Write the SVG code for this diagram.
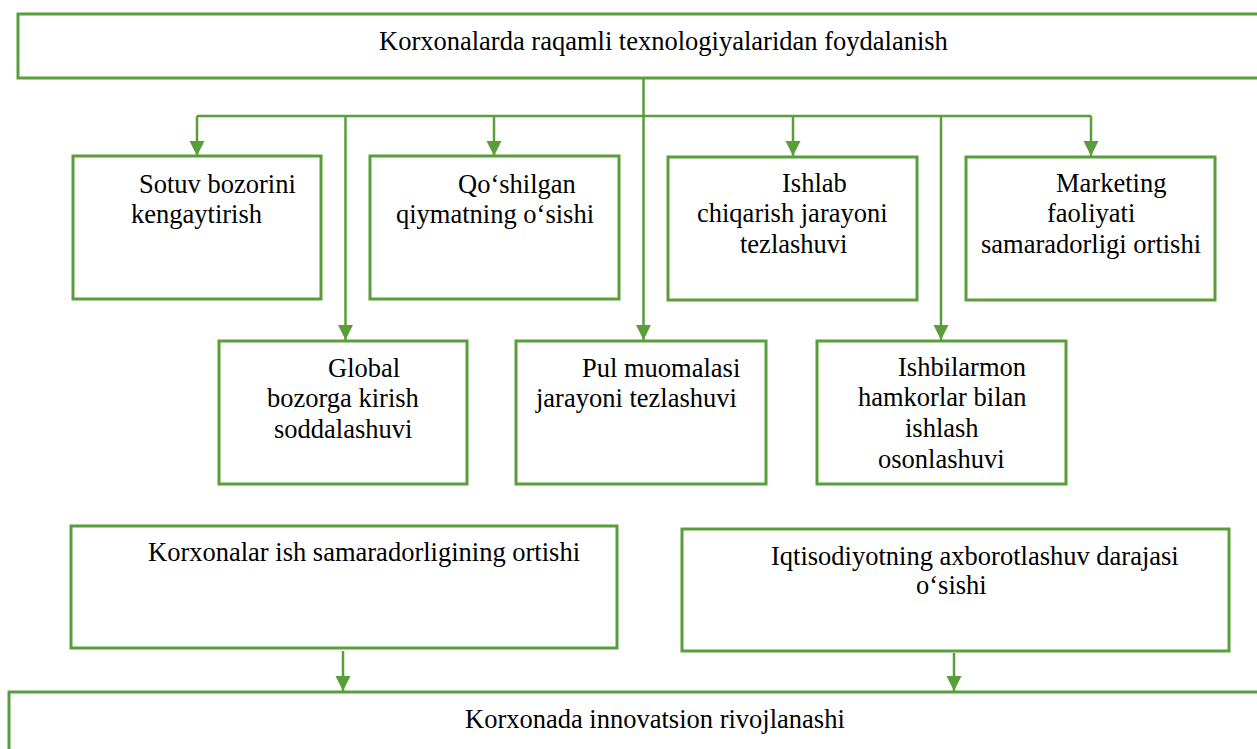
<svg xmlns="http://www.w3.org/2000/svg" width="1257" height="749" viewBox="0 0 1257 749">
<style>
.box{fill:#fff;stroke:#5a9e3a;stroke-width:3}
.con{fill:none;stroke:#5a9e3a;stroke-width:2.5}
text{font-family:"Liberation Serif","Times New Roman",serif;font-size:26.5px;fill:#000}
</style>
<defs>
<marker id="ah" markerUnits="userSpaceOnUse" markerWidth="15" markerHeight="16" refX="15" refY="7.5" orient="auto" viewBox="0 0 15 15">
<path d="M0,0 L15,7.5 L0,15 z" fill="#5a9e3a"/>
</marker>
</defs>
<g id="connectors">
<path class="con" d="M643.5,78 V116"/>
<path class="con" d="M197,116 H1091"/>
<path class="con" d="M197,116 V156" marker-end="url(#ah)"/>
<path class="con" d="M494,116 V156" marker-end="url(#ah)"/>
<path class="con" d="M793,116 V156" marker-end="url(#ah)"/>
<path class="con" d="M1091,116 V156" marker-end="url(#ah)"/>
<path class="con" d="M345.5,116 V340" marker-end="url(#ah)"/>
<path class="con" d="M643.5,116 V340" marker-end="url(#ah)"/>
<path class="con" d="M941,116 V340" marker-end="url(#ah)"/>
<path class="con" d="M343,651 V691" marker-end="url(#ah)"/>
<path class="con" d="M954,653 V691" marker-end="url(#ah)"/>
</g>
<g id="top">
<rect class="box" x="18" y="14" width="1260" height="64"/>
<text x="379" y="50">Korxonalarda raqamli texnologiyalaridan foydalanish</text>
</g>
<g id="sotuv">
<rect class="box" x="73" y="156" width="248" height="143"/>
<text x="139" y="193">Sotuv bozorini</text>
<text x="131" y="223">kengaytirish</text>
</g>
<g id="qoshilgan">
<rect class="box" x="370" y="156" width="249" height="143"/>
<text x="458" y="193">Qo‘shilgan</text>
<text x="396" y="223">qiymatning o‘sishi</text>
</g>
<g id="ishlab">
<rect class="box" x="668" y="157" width="249" height="143"/>
<text x="782" y="192">Ishlab</text>
<text x="697" y="222">chiqarish jarayoni</text>
<text x="740" y="253">tezlashuvi</text>
</g>
<g id="marketing">
<rect class="box" x="966" y="157" width="249" height="143"/>
<text x="1056" y="192">Marketing</text>
<text x="1047" y="222">faoliyati</text>
<text x="981" y="253">samaradorligi ortishi</text>
</g>
<g id="global">
<rect class="box" x="219" y="341" width="248" height="143"/>
<text x="328" y="377">Global</text>
<text x="267" y="407">bozorga kirish</text>
<text x="274" y="438">soddalashuvi</text>
</g>
<g id="pul">
<rect class="box" x="516" y="341" width="250" height="143"/>
<text x="582" y="377">Pul muomalasi</text>
<text x="536" y="407">jarayoni tezlashuvi</text>
</g>
<g id="ishbilarmon">
<rect class="box" x="817" y="341" width="249" height="143"/>
<text x="898" y="376">Ishbilarmon</text>
<text x="858" y="406">hamkorlar bilan</text>
<text x="905" y="437">ishlash</text>
<text x="878" y="468">osonlashuvi</text>
</g>
<g id="korxonalar">
<rect class="box" x="71" y="526" width="546" height="122"/>
<text x="148" y="561">Korxonalar ish samaradorligining ortishi</text>
</g>
<g id="iqtisodiyot">
<rect class="box" x="682" y="529" width="547" height="122"/>
<text x="771" y="565">Iqtisodiyotning axborotlashuv darajasi</text>
<text x="916" y="594">o‘sishi</text>
</g>
<g id="bottom">
<rect class="box" x="9" y="692" width="1260" height="70"/>
<text x="465" y="728">Korxonada innovatsion rivojlanashi</text>
</g>
</svg>
